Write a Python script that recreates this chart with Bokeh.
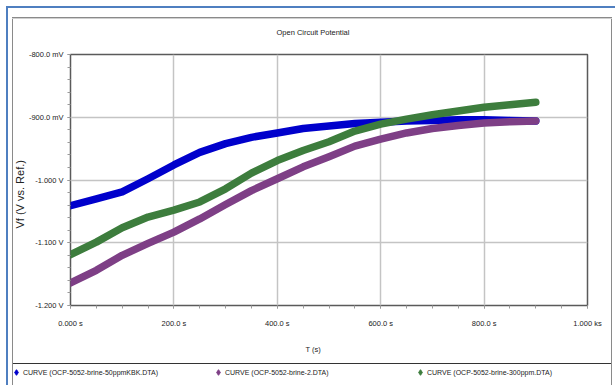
from bokeh.embed import file_html
from bokeh.resources import INLINE
from bokeh.plotting import figure
from bokeh.models import (ColumnDataSource, Range1d, FixedTicker, Legend,
                          LegendItem, Title)

# Time axis (s) and open circuit potential (mV) for each run
time_s = [0, 50, 100, 150, 200, 250, 300, 350, 400, 450,
          500, 550, 600, 650, 700, 750, 800, 850, 900]

vf_kbk_50ppm = [-1041, -1030, -1019, -998, -976, -956, -942, -932, -925, -918,
                -914, -910, -908, -906, -905, -904, -904, -905, -906]

vf_brine_2 = [-1164, -1144, -1120, -1101, -1083, -1062, -1039, -1017, -998, -979,
              -963, -946, -935, -925, -918, -913, -909, -907, -906]

vf_300ppm = [-1119, -1099, -1076, -1059, -1048, -1035, -1014, -989, -969, -953,
             -939, -922, -911, -903, -896, -890, -884, -880, -876]

series_names = ["CURVE (OCP-5052-brine-50ppmKBK.DTA)",
                "CURVE (OCP-5052-brine-2.DTA)",
                "CURVE (OCP-5052-brine-300ppm.DTA)"]
series_colors = ["#0000cc", "#7e3f86", "#3d7d3d"]

x_ticks = [0, 200, 400, 600, 800, 1000]
x_tick_labels = ["0.000 s", "200.0 s", "400.0 s", "600.0 s", "800.0 s", "1.000 ks"]
y_ticks = [-1200, -1100, -1000, -900, -800]
y_tick_labels = ["-1.200 V", "-1.100 V", "-1.000 V", "-900.0 mV", "-800.0 mV"]

FONT = "Liberation Sans"
TEXT = "#222222"
SMALL = "7.5px"


def chrome(strokes):
    """CSS background strokes painted behind a transparent plot border."""
    return {
        "background-color": "white",
        "background-image": ", ".join(f"linear-gradient({c}, {c})" for c, _, _ in strokes),
        "background-position": ", ".join(pos for _, pos, _ in strokes),
        "background-size": ", ".join(size for _, _, size in strokes),
        "background-repeat": "no-repeat",
    }


blue, gray, dark = "#4f7fc0", "#8a8a8a", "#333333"

# ---- main chart -----------------------------------------------------------
p = figure(width=615, height=367, output_backend="svg", toolbar_location=None,
           x_range=Range1d(0, 1000), y_range=Range1d(-1200, -800),
           min_border_left=70, min_border_right=28,
           min_border_top=54, min_border_bottom=62)
p.background_fill_color = "white"
p.border_fill_alpha = 0
p.outline_line_color = "#5a5a5a"
p.outline_line_width = 1.5
p.styles = chrome([
    (blue, "6px 6px", "609px 2px"),
    (blue, "6px 6px", "2px 361px"),
    (gray, "12px 17px", "600px 1px"),
    ("#d0d0d0", "12px 18px", "600px 1px"),
    (gray, "12px 17px", "1px 350px"),
    (gray, "611px 17px", "1px 350px"),
    (dark, "12px 363px", "600px 1px"),
])

# Axes: major ticks labelled, minor ticks every 50 s / 20 mV
for ax in (p.xaxis[0], p.yaxis[0]):
    ax.axis_line_color = None
    ax.major_tick_in = 0
    ax.major_tick_out = 3
    ax.minor_tick_in = 0
    ax.minor_tick_out = 3
    ax.major_tick_line_color = "#9a9a9a"
    ax.minor_tick_line_color = "#9a9a9a"
    ax.major_label_text_font = FONT
    ax.major_label_text_font_size = SMALL
    ax.major_label_text_color = TEXT

p.xaxis.ticker = FixedTicker(ticks=x_ticks,
                             minor_ticks=list(range(0, 1001, 50)))
p.xaxis.major_label_overrides = dict(zip(x_ticks, x_tick_labels))
p.xaxis.major_label_standoff = 10

p.yaxis.ticker = FixedTicker(ticks=y_ticks,
                             minor_ticks=list(range(-1200, -799, 20)))
p.yaxis.major_label_overrides = dict(zip(y_ticks, y_tick_labels))
p.yaxis.major_label_standoff = 4

p.xgrid.grid_line_color = "#c4c4c4"
p.xgrid.grid_line_width = 1.5
p.ygrid.grid_line_color = "#c4c4c4"
p.ygrid.grid_line_width = 1.5

# Curves
sources = []
for color, values in zip(series_colors, [vf_kbk_50ppm, vf_brine_2, vf_300ppm]):
    src = ColumnDataSource(data=dict(t=time_s, v=values))
    sources.append(src)
    p.line("t", "v", source=src, line_color=color, line_width=7.5,
           line_cap="round", line_join="round")

# Titles
p.add_layout(Title(text="Open Circuit Potential", align="left", offset=206,
                   standoff=35, text_font=FONT, text_font_size=SMALL,
                   text_font_style="normal", text_color=TEXT), "above")
p.add_layout(Title(text="Vf (V vs. Ref.)", align="left", offset=77,
                   standoff=0, text_font=FONT, text_font_size="11px",
                   text_font_style="normal", text_color=TEXT), "left")
p.add_layout(Title(text="T (s)", align="left", offset=235,
                   standoff=25, text_font=FONT, text_font_size=SMALL,
                   text_font_style="normal", text_color=TEXT), "below")

# ---- legend strip -----------------------------------------------------------
lg = figure(width=615, height=18, output_backend="svg", toolbar_location=None,
            x_axis_type=None, y_axis_type=None, min_border=0,
            x_range=Range1d(0, 1000), y_range=Range1d(-1200, -800))
lg.grid.visible = False
lg.outline_line_color = None
lg.background_fill_alpha = 0
lg.border_fill_alpha = 0
lg.styles = chrome([
    (blue, "6px 0px", "2px 18px"),
    (gray, "12px 0px", "1px 18px"),
    (gray, "611px 0px", "1px 18px"),
])

items = []
for name, color, src in zip(series_names, series_colors, sources):
    key = lg.scatter("t", "v", source=src, marker="diamond", size=8,
                     fill_color=color, line_color=color, visible=False)
    items.append(LegendItem(label=name, renderers=[key]))

lg.add_layout(Legend(items=items, location=(9, 6), orientation="horizontal",
                     padding=0, margin=0, spacing=0, glyph_width=14, glyph_height=14,
                     label_standoff=0, label_height=8, label_width=188,
                     label_text_font=FONT, label_text_font_size="7px",
                     label_text_color=TEXT, border_line_color=None,
                     background_fill_alpha=0))

open("out.html", "w").write(file_html([p, lg], INLINE))
